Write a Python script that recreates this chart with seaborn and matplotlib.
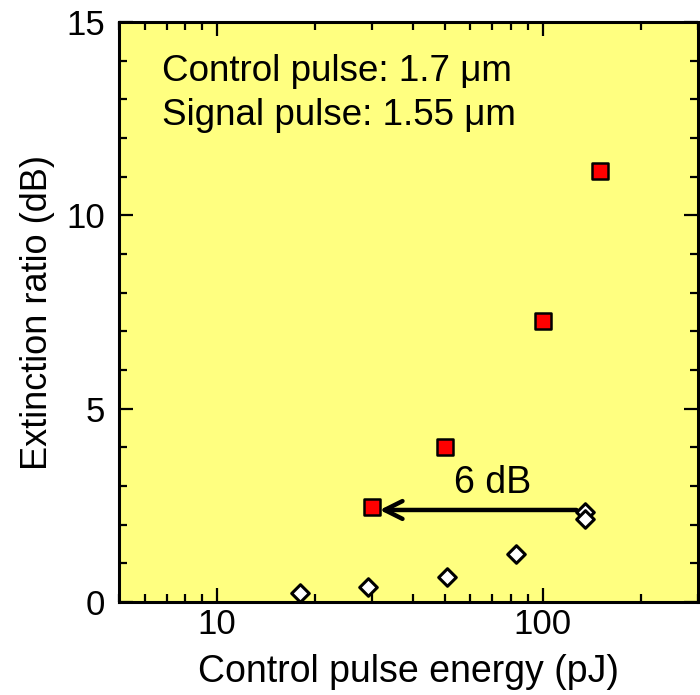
import matplotlib
matplotlib.use("Agg")
import matplotlib.pyplot as plt
import seaborn as sns
import pandas as pd
from matplotlib.ticker import FixedLocator, NullFormatter, MultipleLocator

# Data
signal_energy = [30, 50, 100, 150]
signal_ratio = [2.45, 4.0, 7.27, 11.15]
ref_energy = [18, 29, 51, 83, 135, 135]
ref_ratio = [0.23, 0.39, 0.65, 1.24, 2.33, 2.15]
x_major = [10, 100]
x_minor = [5, 6, 7, 8, 9, 20, 30, 40, 50, 60, 70, 80, 90, 200, 300]
arrow_start = 127
arrow_end = 31.6
arrow_level = 2.38
arrow_text = "6 dB"
text_lines = ["Control pulse: 1.7 μm", "Signal pulse: 1.55 μm"]

sns.set_theme(style="ticks")
plt.rcParams['font.family'] = ['Liberation Sans', 'DejaVu Sans']
plt.rcParams['text.color'] = 'black'
plt.rcParams['axes.labelcolor'] = 'black'

fig = plt.figure(figsize=(7.0, 6.95), dpi=100)
ax = fig.add_axes([119/700, (695-602)/695, (698-119)/700, (602-22)/695])
ax.set_facecolor('#FFFF80')

df_ref = pd.DataFrame({"x": ref_energy, "y": ref_ratio})
df_sig = pd.DataFrame({"x": signal_energy, "y": signal_ratio})

sns.scatterplot(data=df_ref, x="x", y="y", marker="D", s=80, color="white",
                edgecolor="black", linewidth=2.2, ax=ax, zorder=3)
sns.scatterplot(data=df_sig, x="x", y="y", marker="s", s=125, color="#FF0000",
                edgecolor="black", linewidth=1.8, ax=ax, zorder=4)

ax.annotate("", xy=(arrow_end, arrow_level), xytext=(arrow_start, arrow_level),
            arrowprops=dict(arrowstyle="->", lw=3.2, color="black",
                            mutation_scale=32, shrinkA=0, shrinkB=0), zorder=5)
ax.text(70, 3.08, arrow_text, fontsize=27, ha="center", va="center")

ax.text(0.075, 0.915, text_lines[0], transform=ax.transAxes, fontsize=26.5,
        ha="left", va="center")
ax.text(0.075, 0.838, text_lines[1], transform=ax.transAxes, fontsize=26.5,
        ha="left", va="center")

ax.set_xscale("log")
ax.set_xlim(5, 300)
ax.set_ylim(0, 15)
ax.xaxis.set_major_locator(FixedLocator(x_major))
ax.xaxis.set_minor_locator(FixedLocator(x_minor))
ax.xaxis.set_minor_formatter(NullFormatter())
ax.set_xticklabels([str(v) for v in x_major])
ax.yaxis.set_major_locator(MultipleLocator(5))
ax.yaxis.set_minor_locator(MultipleLocator(1))

ax.tick_params(which="both", direction="in", top=True, right=True,
               labelsize=25, width=1.6, color="black", labelcolor="black")
ax.tick_params(which="major", length=10)
ax.tick_params(which="minor", length=6)
ax.tick_params(axis="y", which="major", pad=10)
ax.tick_params(axis="x", which="major", pad=4)
for sp in ax.spines.values():
    sp.set_visible(True)
    sp.set_linewidth(2.2)
    sp.set_color("black")

ax.set_xlabel("Control pulse energy (pJ)", fontsize=27, labelpad=10, color="black")
ax.set_ylabel("Extinction ratio (dB)", fontsize=26, labelpad=8, color="black")

fig.savefig("out.png", dpi=100)
